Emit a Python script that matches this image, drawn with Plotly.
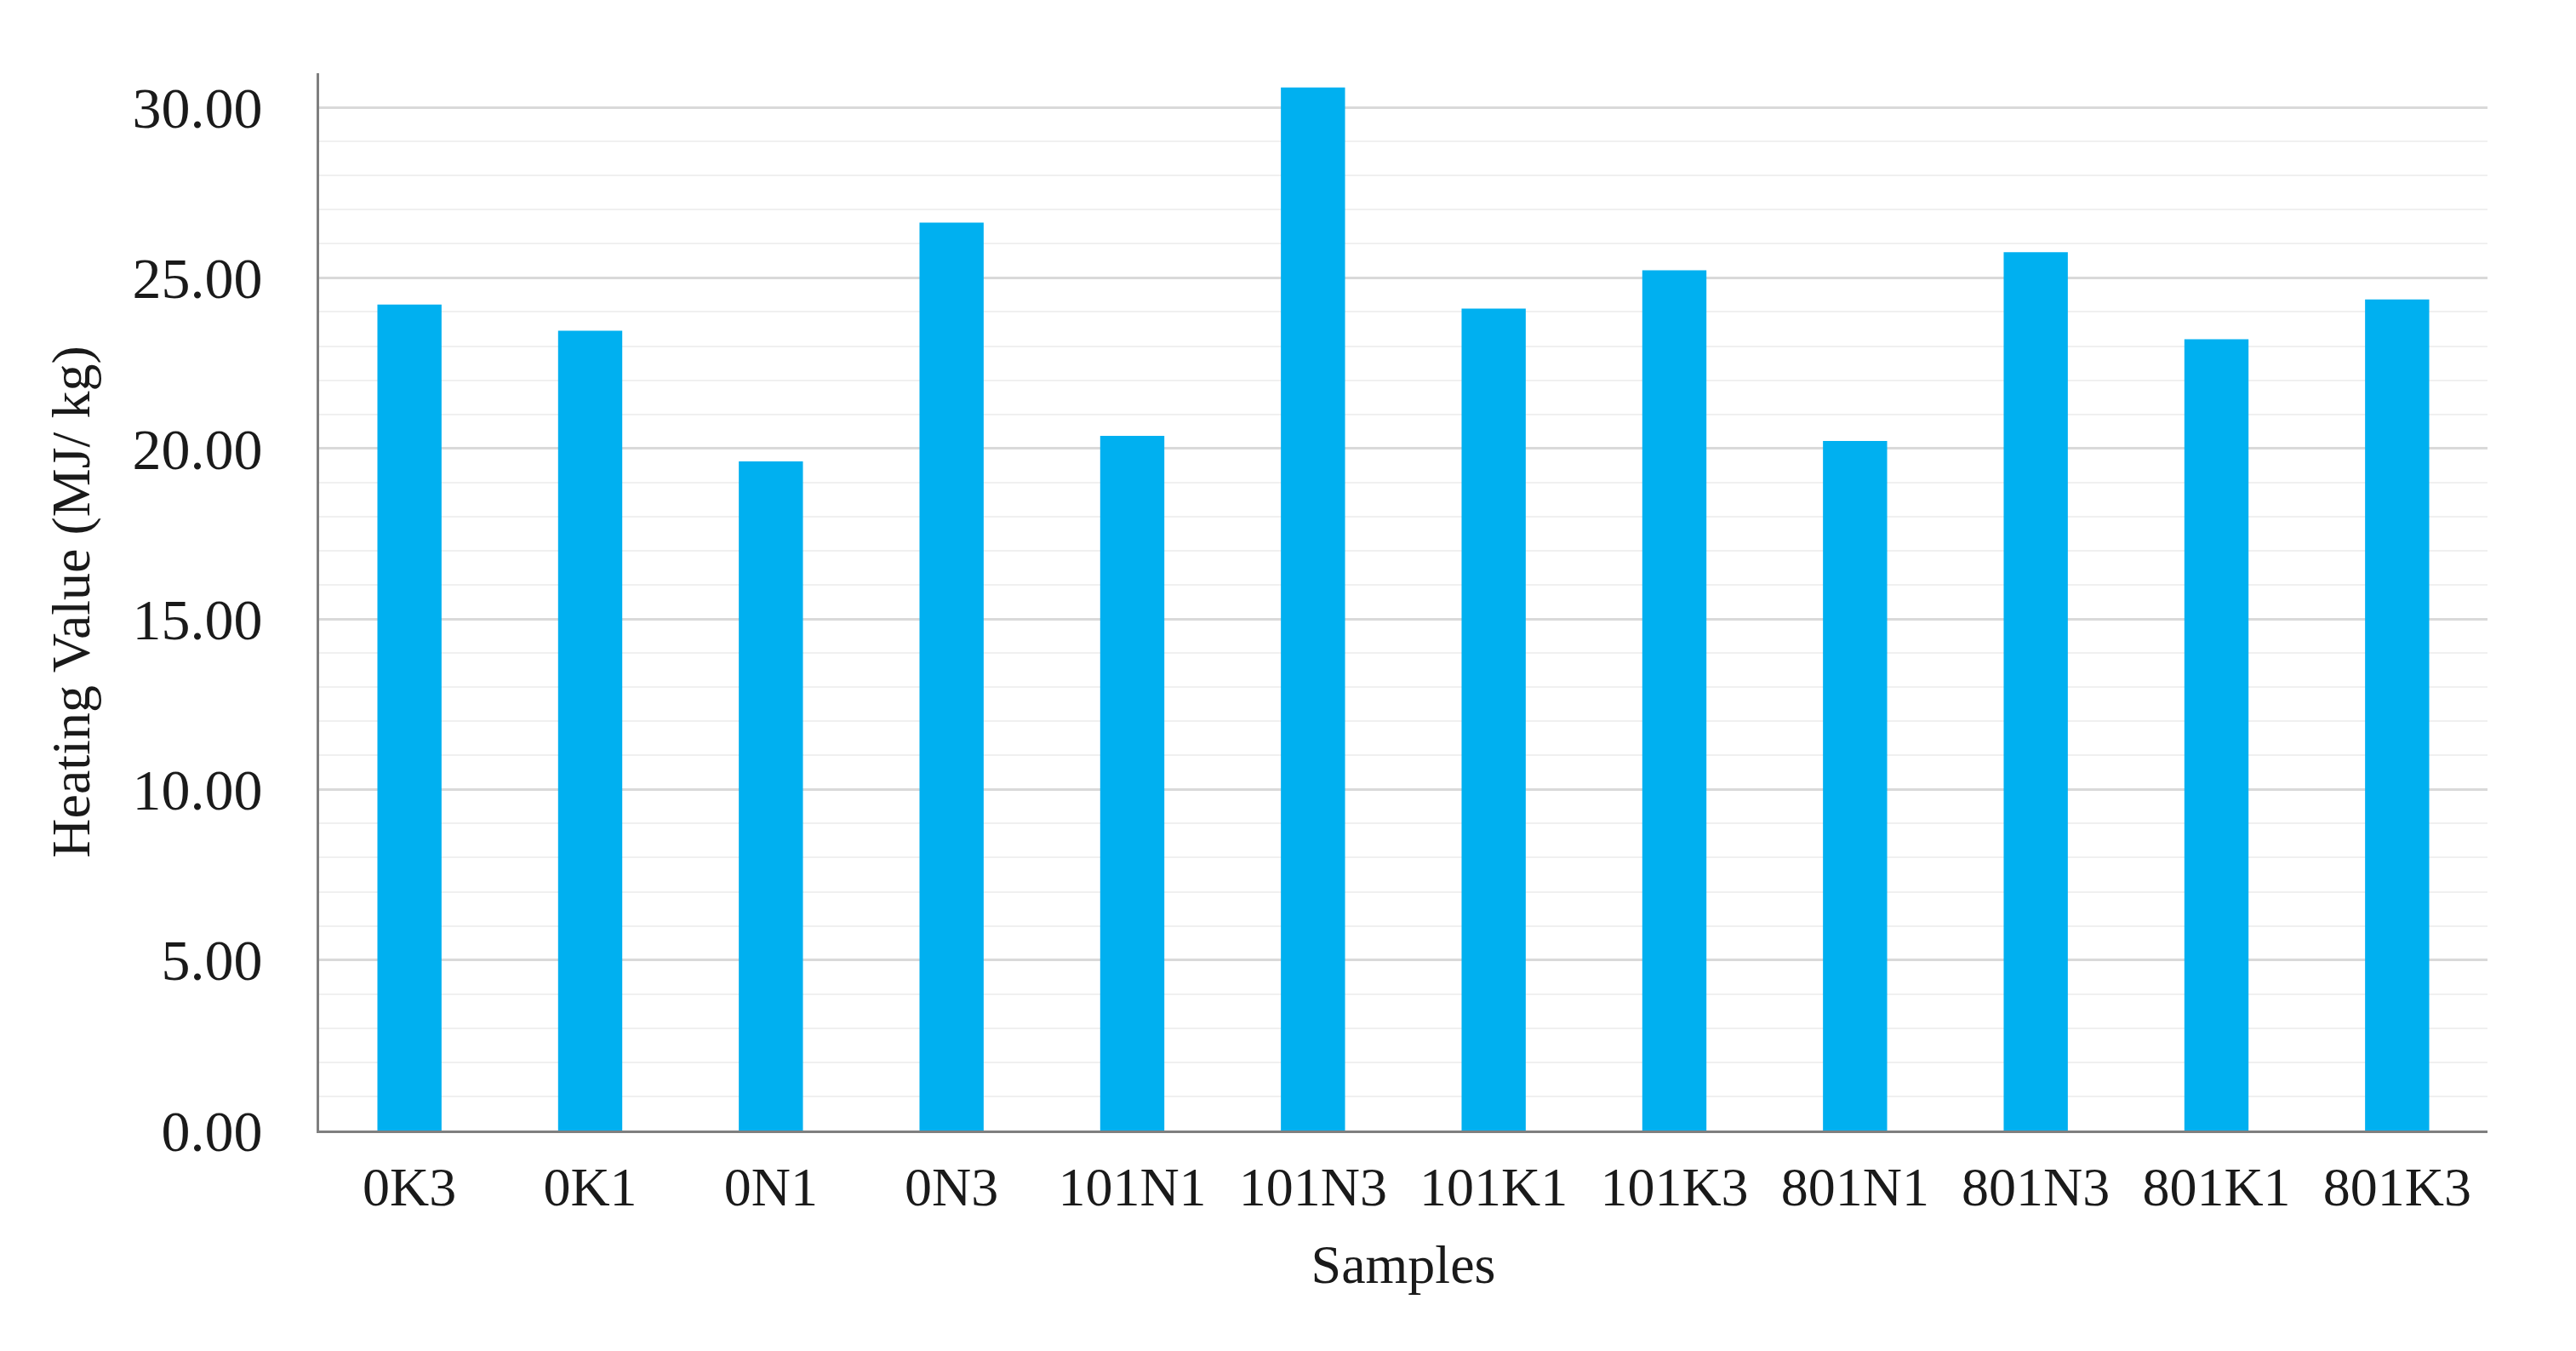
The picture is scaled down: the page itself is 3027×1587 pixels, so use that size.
import plotly.graph_objects as go

# heating value per sample
samples = ['0K3', '0K1', '0N1', '0N3', '101N1', '101N3',
           '101K1', '101K3', '801N1', '801N3', '801K1', '801K3']
heating_value = [24.22, 23.45, 19.62, 26.62, 20.37, 30.58,
                 24.10, 25.22, 20.22, 25.75, 23.20, 24.37]
y_ticks = [0, 5, 10, 15, 20, 25, 30]

font_family = "Liberation Serif, Times New Roman, serif"

fig = go.Figure()
fig.add_trace(go.Bar(
    x=samples,
    y=heating_value,
    marker=dict(color='#00b0f0', line=dict(width=0)),
    width=0.355,
    showlegend=False,
))

fig.update_layout(
    width=3027,
    height=1587,
    margin=dict(l=367, r=112, t=78, b=267),
    plot_bgcolor='white',
    paper_bgcolor='white',
    font=dict(family=font_family, size=64, color='#1a1a1a'),
    bargap=0.645,
)

fig.update_xaxes(
    title=dict(text='Samples', font=dict(size=64), standoff=34),
    showline=True, linecolor='#7f7f7f', linewidth=3,
    ticks='', ticklabelstandoff=8,
    showgrid=False,
)

fig.update_yaxes(
    title=dict(text='Heating Value (MJ/ kg)', font=dict(size=64), standoff=30),
    range=[0, 31],
    tickvals=y_ticks,
    ticktext=[f'{v:.2f}' for v in y_ticks],
    tickfont=dict(size=68),
    showline=True, linecolor='#7f7f7f', linewidth=3,
    ticks='', ticklabelstandoff=50,
    showgrid=True, gridcolor='#d9d9d9', gridwidth=3,
    minor=dict(dtick=1, showgrid=True, gridcolor='#f0f0f0', gridwidth=2),
    zeroline=False,
)

fig.write_html("out.html")
